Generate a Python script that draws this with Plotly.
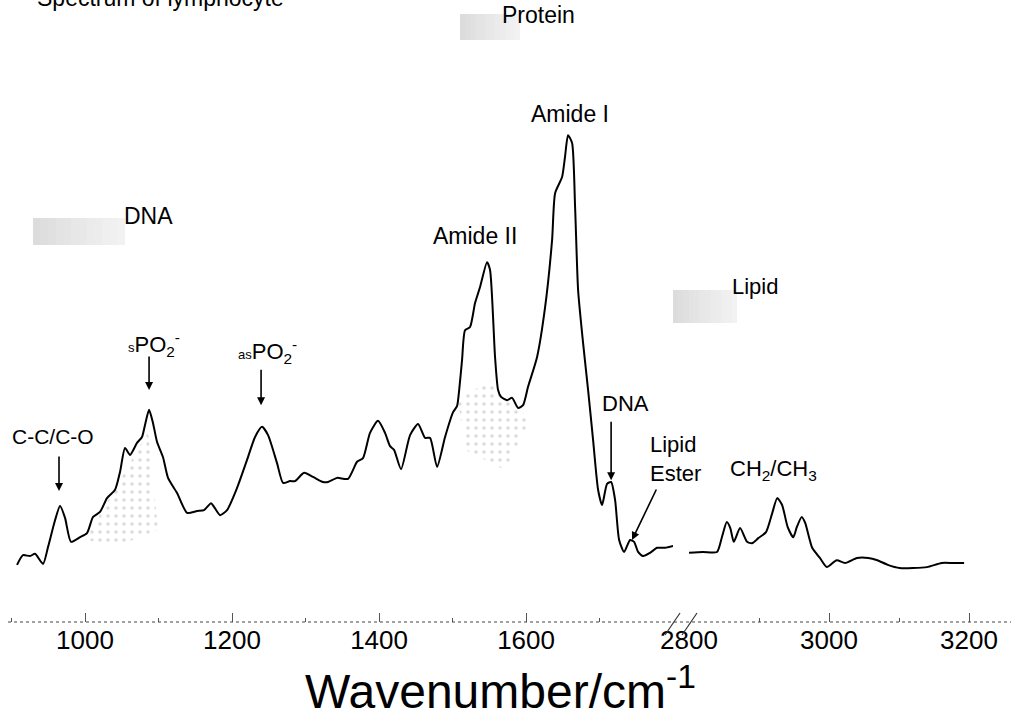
import plotly.graph_objects as go

# ---------------- data ----------------
wn_left = [907.5, 915.6, 925.2, 932.0, 942.9, 949.7, 959.2, 966.0, 972.8, 980.9,
           993.2, 1002.7, 1010.9, 1020.4, 1029.9, 1040.8, 1047.6, 1054.4, 1061.2, 1070.7,
           1077.5, 1081.6, 1087.1, 1092.5, 1098.0, 1106.1, 1112.9, 1125.2, 1138.8, 1152.4,
           1161.9, 1171.4, 1175.5, 1183.7, 1193.2, 1206.8, 1220.4, 1231.3, 1240.8, 1249.0,
           1261.2, 1269.4, 1278.9, 1285.7, 1298.0, 1310.2, 1323.8, 1330.6, 1342.9, 1357.8,
           1370.1, 1378.2, 1387.7, 1398.6, 1408.1, 1414.9, 1420.4, 1429.9, 1442.2, 1453.1,
           1462.6, 1469.4, 1478.9, 1489.8, 1500.7, 1506.1, 1509.0, 1512.9, 1517.0, 1523.8,
           1530.6, 1537.4, 1546.9, 1551.0, 1557.8, 1561.9, 1566.0, 1574.2, 1581.0, 1589.1,
           1595.9, 1602.7, 1615.0, 1625.9, 1635.4, 1639.5, 1649.0, 1653.0, 1657.1, 1662.6,
           1666.7, 1670.8, 1677.6, 1684.4, 1691.2, 1698.0, 1703.4, 1710.2, 1715.7, 1721.1,
           1726.6, 1733.4, 1741.5, 1747.0, 1752.4, 1759.2, 1768.7, 1778.3, 1789.1, 1800.0]
abs_left = [0.033, 0.054, 0.052, 0.057, 0.035, 0.072, 0.130, 0.161, 0.135, 0.083,
            0.093, 0.102, 0.137, 0.148, 0.178, 0.196, 0.235, 0.287, 0.272, 0.298,
            0.311, 0.337, 0.370, 0.341, 0.300, 0.267, 0.222, 0.189, 0.146, 0.150,
            0.152, 0.167, 0.159, 0.141, 0.152, 0.200, 0.261, 0.311, 0.333, 0.315,
            0.254, 0.211, 0.215, 0.215, 0.233, 0.224, 0.213, 0.213, 0.222, 0.220,
            0.257, 0.265, 0.320, 0.346, 0.320, 0.291, 0.283, 0.241, 0.315, 0.339,
            0.309, 0.309, 0.246, 0.311, 0.365, 0.378, 0.413, 0.478, 0.543, 0.550,
            0.602, 0.637, 0.691, 0.674, 0.485, 0.413, 0.398, 0.391, 0.396, 0.374,
            0.380, 0.420, 0.485, 0.593, 0.739, 0.841, 0.876, 0.920, 0.967, 0.950,
            0.811, 0.630, 0.515, 0.413, 0.304, 0.196, 0.163, 0.209, 0.213, 0.174,
            0.087, 0.061, 0.087, 0.083, 0.061, 0.052, 0.059, 0.070, 0.070, 0.074]

wn_right = [2800, 2820, 2840, 2847, 2854, 2859, 2864, 2873, 2883, 2890,
            2899, 2910, 2919, 2926, 2933, 2941, 2949, 2954, 2961, 2966,
            2976, 2987, 2997, 3011, 3023, 3040, 3056, 3069, 3084, 3101,
            3120, 3140, 3161, 3177, 3193]
abs_right = [0.059, 0.061, 0.061, 0.093, 0.126, 0.113, 0.083, 0.113, 0.083, 0.080,
             0.091, 0.104, 0.146, 0.178, 0.163, 0.115, 0.093, 0.115, 0.137, 0.124,
             0.070, 0.048, 0.028, 0.043, 0.037, 0.048, 0.048, 0.043, 0.033, 0.026,
             0.026, 0.028, 0.037, 0.037, 0.037]

# stippled regions under bands (wavenumber, absorbance)
spo2_band_wn = [1000, 1085.7, 1099.3, 1047.6]
spo2_band_abs = [0.087, 0.322, 0.109, 0.076]
amide2_band_wn = [1507.5, 1551, 1605.4, 1571.4, 1517]
amide2_band_abs = [0.391, 0.435, 0.348, 0.239, 0.283]

left_ticks = [1000, 1200, 1400, 1600]
right_ticks = [2800, 3000, 3200]

FONT = "Liberation Sans, Arial, sans-serif"

fig = go.Figure()

for bx, by in [(spo2_band_wn, spo2_band_abs), (amide2_band_wn, amide2_band_abs)]:
    fig.add_trace(go.Scatter(
        x=bx, y=by, xaxis="x", yaxis="y", mode="none", fill="toself",
        fillcolor="rgba(0,0,0,0)",
        fillpattern=dict(shape=".", fgcolor="#b8b8b8", bgcolor="rgba(0,0,0,0)",
                         size=8, solidity=0.15),
        hoverinfo="skip", showlegend=False))

fig.add_trace(go.Scatter(x=wn_left, y=abs_left, mode="lines", xaxis="x", yaxis="y",
                         line=dict(color="black", width=2, shape="spline", smoothing=0.6),
                         showlegend=False))
fig.add_trace(go.Scatter(x=wn_right, y=abs_right, mode="lines", xaxis="x2", yaxis="y",
                         line=dict(color="black", width=2, shape="spline", smoothing=0.6),
                         showlegend=False))

axis_common = dict(showgrid=False, zeroline=False, showline=False, automargin=False,
                   ticks="inside", ticklen=9, tickwidth=1, tickcolor="#555",
                   tickfont=dict(family=FONT, size=26, color="black"),
                   anchor="y")
fig.update_layout(
    width=1011, height=721,
    margin=dict(l=0, r=0, t=0, b=99, autoexpand=False),
    paper_bgcolor="white", plot_bgcolor="white",
    xaxis=dict(domain=[8/1011, 673/1011], range=[895.2, 1799.9],
               tickmode="array", tickvals=left_ticks,
               minor=dict(ticks="inside", ticklen=4, dtick=100, tick0=900, tickcolor="#555"),
               **axis_common),
    xaxis2=dict(domain=[689/1011, 1.0], range=[2800, 3260],
                tickmode="array", tickvals=right_ticks,
                minor=dict(ticks="inside", ticklen=4, dtick=100, tick0=2800, tickcolor="#555"),
                **axis_common),
    yaxis=dict(range=[-0.0913, 1.2609], visible=False, domain=[0, 1], automargin=False),
)

# dotted axis line and break marks
fig.add_shape(type="line", xref="paper", yref="paper", x0=8/1011, x1=1.0, y0=0, y1=0,
              line=dict(color="#444", width=1, dash="dot"))
for x0, x1 in [(665, 680), (682, 697)]:
    fig.add_shape(type="line", xref="paper", yref="paper",
                  x0=x0/1011, x1=x1/1011, y0=-13/622, y1=9/622,
                  line=dict(color="#333", width=1.2))

# stippled legend-like swatches (fading to the right)
for (xa, xb, ya, yb) in [(460, 520, 14, 40), (33, 125, 218, 245), (673, 737, 290, 323)]:
    n = 12
    w = (xb - xa) / n
    for i in range(n):
        op = 0.24 - 0.014 * i
        fig.add_shape(type="rect", xref="paper", yref="paper",
                      x0=(xa + i*w)/1011, x1=(xa + (i+1)*w)/1011,
                      y0=(622-yb)/622, y1=(622-ya)/622,
                      fillcolor=f"rgba(110,110,110,{op:.3f})", line=dict(width=0), layer="below")

def txt(text, x, y, xref="x", yref="y", size=22, **kw):
    kw.setdefault("xanchor", "center")
    kw.setdefault("yanchor", "middle")
    fig.add_annotation(text=text, x=x, y=y, xref=xref, yref=yref, showarrow=False,
                       font=dict(family=FONT, size=size, color="black"), **kw)

def arrow(x, y, ax, ay, xref="x"):
    fig.add_annotation(text="", x=x, y=y, xref=xref, yref="y", ax=ax, ay=ay,
                       showarrow=True, arrowhead=2, arrowsize=1, arrowwidth=1.6,
                       arrowcolor="black", standoff=0, startstandoff=0)

txt("Spectrum of lymphocyte", 35/1011, 1.0, xref="paper", yref="paper", size=23,
    xanchor="left", yanchor="middle", yshift=2)
txt("Protein", 1616.3, 1.228, size=23)
txt("DNA", 148/1011, 0.791, xref="paper", size=23)
txt("Lipid", 2894, 0.637, xref="x2", size=22)
txt("Amide I", 1659.8, 1.013, size=23)
txt("Amide II", 1530.6, 0.748, size=23)
txt("C-C/C-O", 956.5, 0.311, size=21)
txt("<span style='font-size:13px'>s</span>PO<sub>2</sub><sup>-</sup>", 1093.9, 0.511, size=22)
txt("<span style='font-size:13px'>as</span>PO<sub>2</sub><sup>-</sup>", 1247.6, 0.496, size=22)
txt("DNA", 1734.7, 0.383, size=22)
txt("Lipid<br>Ester", 675/1011, 0.263, xref="paper", size=22, align="left")
txt("CH<sub>2</sub>/CH<sub>3</sub>", 2920, 0.239, xref="x2", size=22)

arrow(964.6, 0.1935, 0, -36)
arrow(1087.1, 0.413, 0, -35)
arrow(1239.5, 0.380, 0, -37)
arrow(1715.7, 0.217, 0, -60)
arrow(1744.2, 0.087, 25, -52)

fig.add_annotation(text="Wavenumber/cm<sup>-1</sup>", x=500/1011, y=(622-688)/622,
                   xref="paper", yref="paper", showarrow=False,
                   font=dict(family=FONT, size=48, color="black"),
                   xanchor="center", yanchor="middle")

fig.write_html("out.html")
